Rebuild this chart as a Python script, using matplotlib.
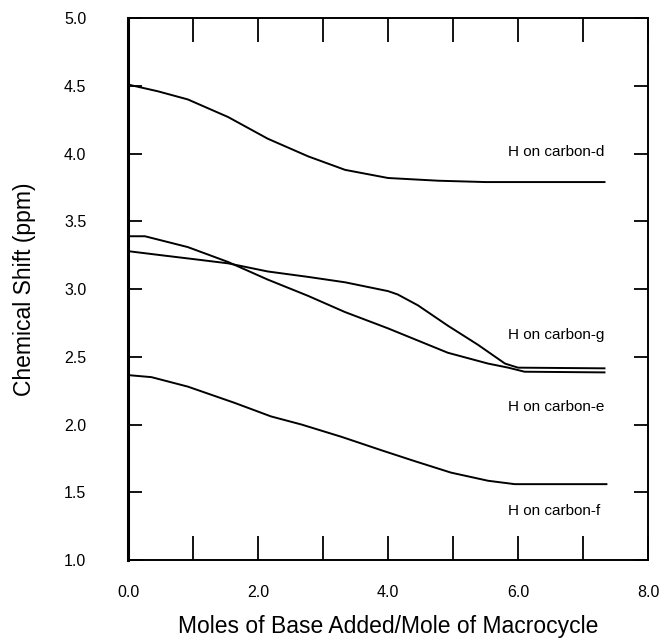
import matplotlib
matplotlib.use("Agg")
import matplotlib.pyplot as plt

plt.rcParams['font.family'] = ['Liberation Sans', 'DejaVu Sans']

# values
x_d = [0.0, 0.46, 0.92, 1.54, 2.15, 2.77, 3.34, 4.0, 4.77, 5.5, 7.33]
y_d = [4.51, 4.46, 4.40, 4.27, 4.11, 3.98, 3.88, 3.82, 3.80, 3.79, 3.79]

x_e = [0.0, 0.26, 0.92, 1.54, 2.15, 2.77, 3.34, 4.0, 4.92, 5.54, 5.85, 6.1, 7.33]
y_e = [3.39, 3.39, 3.31, 3.20, 3.07, 2.95, 2.83, 2.71, 2.53, 2.45, 2.42, 2.39, 2.385]

x_g = [0.0, 0.51, 1.03, 1.54, 2.15, 2.77, 3.34, 4.0, 4.15, 4.46, 4.92, 5.38, 5.8, 6.0, 7.33]
y_g = [3.28, 3.25, 3.22, 3.19, 3.13, 3.09, 3.05, 2.985, 2.96, 2.88, 2.73, 2.59, 2.45, 2.42, 2.415]

x_f = [0.0, 0.36, 0.92, 1.64, 2.2, 2.67, 3.28, 3.9, 4.41, 4.97, 5.54, 5.95, 7.36]
y_f = [2.365, 2.35, 2.28, 2.16, 2.06, 2.00, 1.91, 1.81, 1.73, 1.645, 1.585, 1.56, 1.56]

labels = ['H on carbon-d', 'H on carbon-g', 'H on carbon-e', 'H on carbon-f']
label_y = [4.01, 2.66, 2.13, 1.36]

xtick_vals = [0, 2, 4, 6, 8]
xtick_labels = ['0.0', '2.0', '4.0', '6.0', '8.0']
ytick_vals = [1.0, 1.5, 2.0, 2.5, 3.0, 3.5, 4.0, 4.5, 5.0]

fig = plt.figure(figsize=(6.65, 6.39), dpi=100)
ax = fig.add_axes([0.1925, 0.1236, 0.782, 0.848])

for xs, ys in [(x_d, y_d), (x_e, y_e), (x_g, y_g), (x_f, y_f)]:
    ax.plot(xs, ys, color='black', lw=1.4)

for lab, ly in zip(labels, label_y):
    ax.text(5.85, ly, lab, fontsize=11, ha='left', va='center')

ax.set_xlim(0, 8)
ax.set_ylim(1, 5)
ax.set_xticks(xtick_vals)
ax.set_xticklabels(xtick_labels)
ax.set_xticks([1, 3, 5, 7], minor=True)
ax.set_yticks(ytick_vals)
ax.set_yticklabels(['%.1f' % v for v in ytick_vals])

ax.tick_params(axis='x', which='both', direction='in', top=True, bottom=True,
               length=17, width=1.3, pad=18, labelsize=11.5)
ax.tick_params(axis='y', which='major', direction='in', left=True, right=True,
               length=10, width=1.3, pad=30, labelsize=11.5)

for side in ['top', 'right', 'bottom']:
    ax.spines[side].set_linewidth(1.4)
ax.spines['left'].set_linewidth(2.2)

ax.set_xlabel('Moles of Base Added/Mole of Macrocycle', fontsize=16.5, labelpad=11)
ax.set_ylabel('Chemical Shift (ppm)', fontsize=16.5, labelpad=20)

fig.savefig('out.png', dpi=100)
